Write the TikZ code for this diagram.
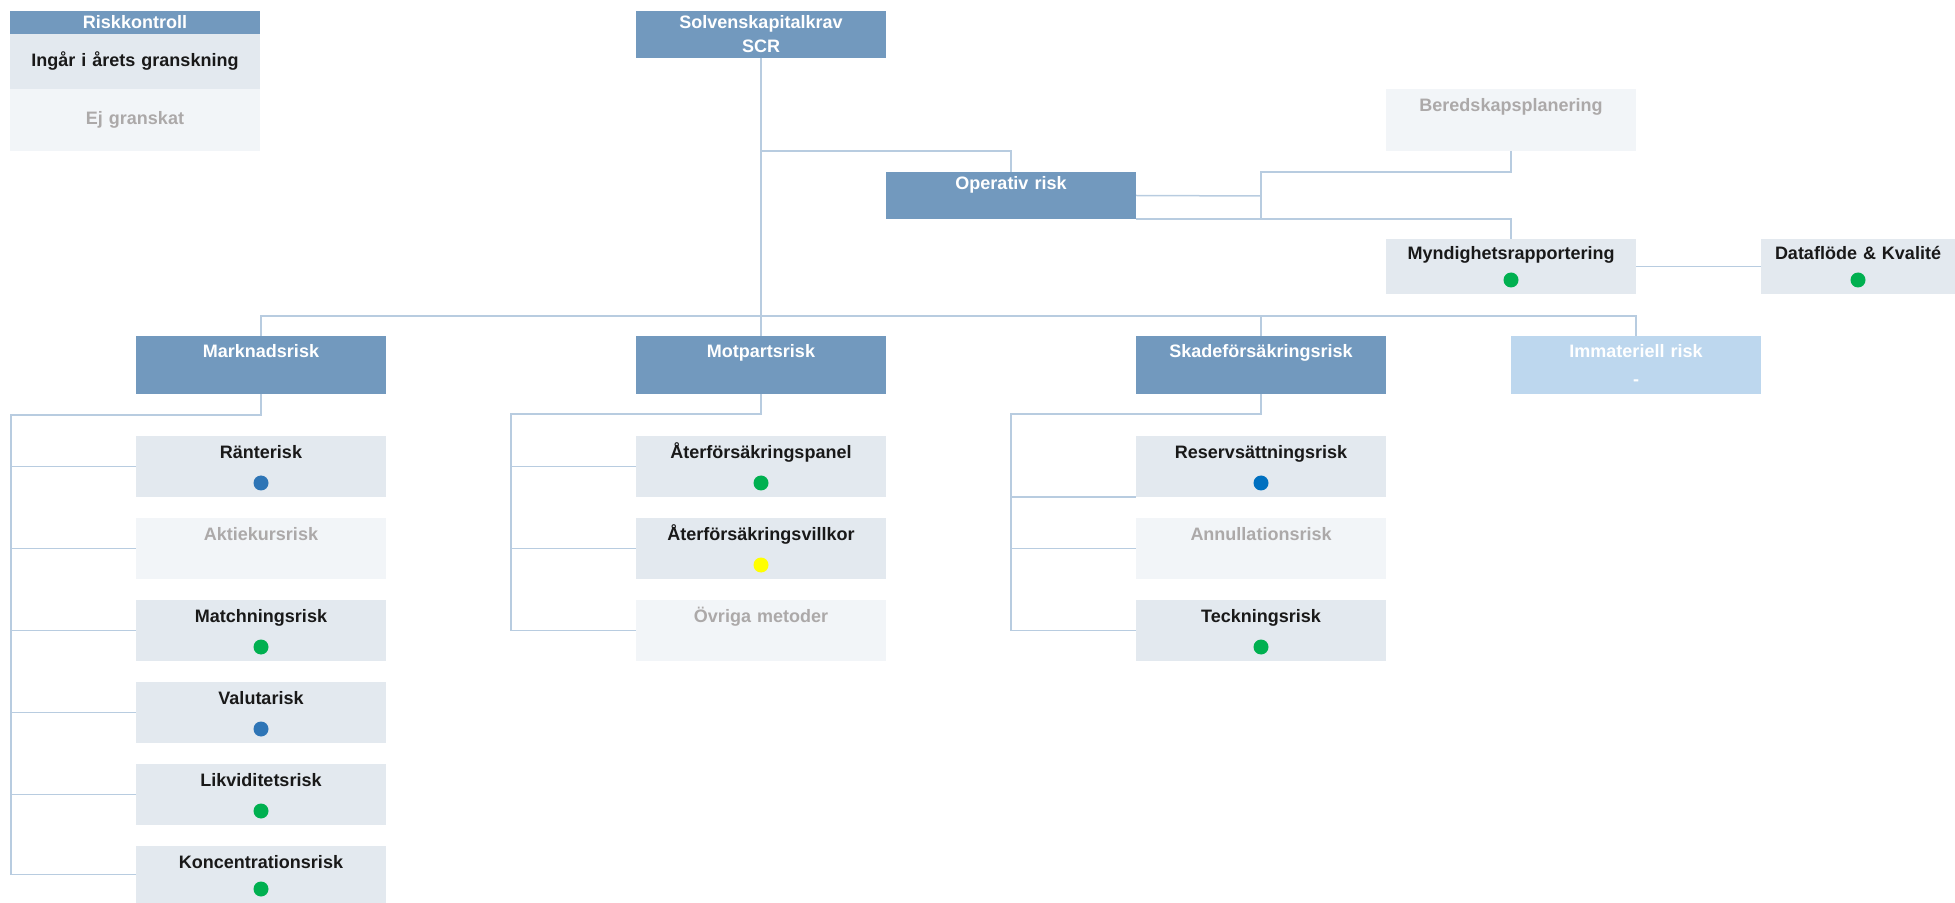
\documentclass[tikz,border=0pt]{standalone}
\usepackage{fontspec}
\setmainfont{Liberation Sans}
\usetikzlibrary{positioning}
\definecolor{headblue}{RGB}{114,153,190}
\definecolor{revfill}{RGB}{227,233,239}
\definecolor{skipfill}{RGB}{242,245,248}
\definecolor{immfill}{RGB}{189,215,238}
\definecolor{skiptext}{RGB}{172,169,169}
\definecolor{linkline}{RGB}{184,204,224}
\definecolor{okgreen}{RGB}{0,176,80}
\definecolor{midblue}{RGB}{46,117,182}
\definecolor{deepblue}{RGB}{0,112,192}
\definecolor{warnyellow}{RGB}{255,255,0}
\tikzset{
  basic/.style     = {rectangle, inner sep=0pt, outer sep=0pt, anchor=north west, align=center,
                      minimum width=125pt, text width=125pt, font=\bfseries\fontsize{9}{12}\selectfont},
  riskhead/.style  = {basic, fill=headblue, text=white, minimum height=23.5pt, text height=9pt, text depth=14.5pt},
  riskgroup/.style = {basic, fill=headblue, text=white, minimum height=29pt, text height=11pt, text depth=18pt},
  checked/.style   = {basic, fill=revfill, text=black!90, minimum height=30.5pt, text height=11.2pt, text depth=19.3pt},
  skipped/.style   = {checked, fill=skipfill, text=skiptext},
  lamp/.style      = {circle, fill=#1, minimum size=7.5pt, inner sep=0pt, outer sep=0pt},
  link/.style      = {draw=linkline, line width=0.75pt}
}

\begin{document}
\begin{tikzpicture}[x=0.5pt,y=-0.5pt]
\useasboundingbox (0,0) rectangle (1955,903);
\node[basic, fill=headblue, text=white, minimum height=11.5pt] (kh) at (10,11) {Riskkontroll};
\node[basic, fill=revfill, text=black!90, minimum height=27.5pt, below=0pt of kh] (k1) {Ingår i årets granskning};
\node[basic, fill=skipfill, text=skiptext, minimum height=31pt, below=0pt of k1] (k2) {Ej granskat};

\node[riskhead] (scr) at (636,11) {Solvenskapitalkrav\\SCR};
\node[riskhead] (oper) at (886,172) {Operativ risk};
\node[skipped, minimum height=31pt, text depth=19.8pt] (bered) at (1386,89) {Beredskapsplanering};
\node[checked, minimum height=27.5pt, text height=10.3pt, text depth=17.2pt] (mynd) at (1386,239) {Myndighetsrapportering};
\node[checked, minimum height=27.5pt, text height=10.3pt, text depth=17.2pt,
      minimum width=97pt, text width=97pt] (data) at (1761,239) {Dataflöde \& Kvalité};

\node[riskgroup] (mark) at (136,336) {Marknadsrisk};
\node[riskgroup] (motp) at (636,336) {Motpartsrisk};
\node[riskgroup] (skade) at (1136,336) {Skadeförsäkringsrisk};
\node[riskgroup, fill=immfill] (immat) at (1511,336) {Immateriell risk\\[2pt]-};

\node[checked] (rant) at (136,436) {Ränterisk};
\node[skipped, below=10.5pt of rant] (aktie) {Aktiekursrisk};
\node[checked, below=10.5pt of aktie] (match) {Matchningsrisk};
\node[checked, below=10.5pt of match] (valuta) {Valutarisk};
\node[checked, below=10.5pt of valuta] (likv) {Likviditetsrisk};
\node[checked, below=10.5pt of likv, minimum height=28.5pt, text depth=17.3pt] (kons) {Koncentrationsrisk};

\node[checked] (terp) at (636,436) {Återförsäkringspanel};
\node[checked, below=10.5pt of terp] (tervill) {Återförsäkringsvillkor};
\node[skipped, below=10.5pt of tervill] (ovriga) {Övriga metoder};

\node[checked] (reserv) at (1136,436) {Reservsättningsrisk};
\node[skipped, below=10.5pt of reserv] (annul) {Annullationsrisk};
\node[checked, below=10.5pt of annul] (teck) {Teckningsrisk};

\coordinate (bus) at (761,316);
\coordinate (obus) at (1261,196);
\coordinate (mbus) at (11,415);
\coordinate (pbus) at (511,414);
\coordinate (sbus) at (1011,414);

\draw[link] (scr) -- (motp);
\draw[link] (oper.north) -- ++(0,-21) -| (scr.south);
\draw[link] (mark.north) |- (bus) -| (immat.north);
\draw[link] (skade.north) -- (skade.north |- bus);
\draw[link] (oper.east) -- (obus);
\draw[link] (bered.south) -- ++(0,21) -| (obus |- oper.south);
\draw[link] (oper.south east) -| (mynd.north);
\draw[link] (mynd) -- (data);

\draw[link] (mark.south) |- (mbus) -- (mbus |- kons.west);
\foreach \leaf in {rant,aktie,match,valuta,likv,kons}
  \draw[link] (mbus |- \leaf.west) -- (\leaf.west);
\draw[link] (motp.south) |- (pbus) -- (pbus |- ovriga.west);
\foreach \leaf in {terp,tervill,ovriga}
  \draw[link] (pbus |- \leaf.west) -- (\leaf.west);
\draw[link] (skade.south) |- (sbus) -- (sbus |- teck.west);
\draw[link] (sbus |- reserv.south west) -- (reserv.south west);
\foreach \leaf in {annul,teck}
  \draw[link] (sbus |- \leaf.west) -- (\leaf.west);

\foreach \leaf/\col in {rant/midblue,match/okgreen,valuta/midblue,likv/okgreen,kons/okgreen,
                        terp/okgreen,tervill/warnyellow,reserv/deepblue,teck/okgreen,
                        mynd/okgreen,data/okgreen}
  \node[lamp=\col] (lamp-\leaf) at ([yshift=7pt]\leaf.south) {};
\end{tikzpicture}
\end{document}
